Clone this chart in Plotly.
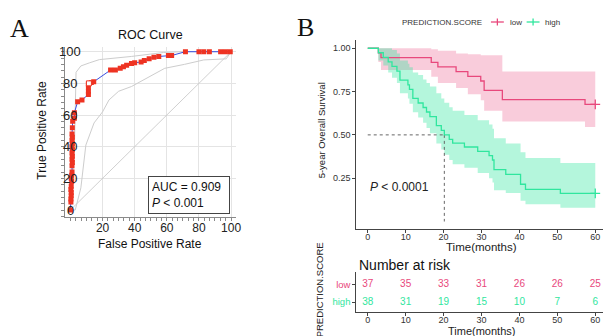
import plotly.graph_objects as go

# ---------------- data ----------------
# ROC (percent)
roc_fpr = [0, 0.3, 0.3, 0.5, 0.5, 0.3, 0.5, 0.8, 0.5, 0.8, 1.0, 1.0, 1.2, 1.0, 1.2, 1.0, 1.2, 1.0, 1.2, 1.0, 1.2, 1.0, 1.2, 1.4,
           2.5, 2.5, 4.5, 7.2, 11.2, 11.2, 11.2, 11.2, 13.0, 14.5, 25.0, 28.0, 31.0, 33.0, 35.0, 38.0, 40.0,
           44.0, 46.0, 49.0, 52.0, 55.0, 61.0, 63.0, 71.6, 80.0, 83.0, 86.5, 93.5, 96.5, 99.5]
roc_tpr = [0, 5, 7, 9, 11, 13, 15, 18, 20, 22, 24, 28, 30, 32, 34, 36, 38, 40, 42, 44, 46, 48, 52, 56,
           58, 61.5, 68.4, 69.5, 73, 75, 77.5, 79.5, 80.5, 81, 88.4, 88.4, 89.5, 90.5, 91.5, 92.5, 93,
           93.5, 94.5, 95.5, 96.5, 97, 97.6, 97.6, 100, 100, 100, 100, 100, 100, 100]
cutoff_fpr = [11.5]
cutoff_tpr = [80]
ci_upper_fpr = [0, 2.5, 3.5, 6.5, 12, 18, 38, 58, 70, 100]
ci_upper_tpr = [0, 40, 87, 91, 93, 95, 97, 99.5, 100, 100]
ci_lower_fpr = [0, 3, 6.5, 9.6, 14.7, 20, 24, 30, 38, 48.5, 58.7, 71, 83, 97, 100]
ci_lower_tpr = [0, 0, 14, 41, 55, 62, 69.5, 75, 78, 84, 89.5, 92, 94.8, 95.5, 100]
roc_xticks = [20, 40, 60, 80, 100]
roc_yticks = [0, 20, 40, 60, 80, 100]
auc_text = "AUC = 0.909<br><i>P</i> < 0.001"

# Kaplan-Meier
t_low = [0, 2.8, 3.5, 16.75, 18.5, 23.3, 26.4, 29.8, 30.7, 35.5, 57.3, 60]
s_low = [1, 0.973, 0.946, 0.919, 0.892, 0.865, 0.838, 0.811, 0.757, 0.703, 0.676, 0.676]
lo_low = [1, 0.92, 0.875, 0.835, 0.80, 0.77, 0.735, 0.70, 0.64, 0.577, 0.545, 0.545]
up_low = [1, 1, 1, 0.995, 0.985, 0.97, 0.965, 0.96, 0.96, 0.866, 0.866, 0.866]

t_high = [0, 2.8, 4.1, 5.4, 6.4, 7.7, 8.5, 10.6, 11.0, 11.9, 13.3, 14.6, 15.5, 16.4, 18.1, 19.4, 20.2,
          21.5, 22.4, 25.5, 29.0, 32.0, 32.9, 33.3, 36.4, 40.3, 41.6, 50.8, 60]
s_high = [1, 0.974, 0.947, 0.921, 0.895, 0.868, 0.816, 0.789, 0.763, 0.711, 0.684, 0.658, 0.632, 0.605,
          0.553, 0.526, 0.50, 0.474, 0.452, 0.430, 0.405, 0.380, 0.355, 0.300, 0.272, 0.215, 0.186, 0.162, 0.162]
lo_high = [1, 0.93, 0.90, 0.86, 0.83, 0.80, 0.74, 0.71, 0.68, 0.63, 0.60, 0.57, 0.54, 0.51, 0.45, 0.415,
           0.385, 0.355, 0.33, 0.31, 0.28, 0.25, 0.225, 0.18, 0.165, 0.12, 0.10, 0.08, 0.08]
up_high = [1, 1, 1, 1, 0.99, 0.97, 0.93, 0.91, 0.89, 0.86, 0.845, 0.82, 0.80, 0.78, 0.74, 0.71, 0.685,
           0.66, 0.64, 0.615, 0.585, 0.56, 0.535, 0.48, 0.45, 0.40, 0.366, 0.337, 0.337]
median_time = 20.2
median_surv = 0.5
km_xticks = [0, 10, 20, 30, 40, 50, 60]
km_yticks = [0.25, 0.50, 0.75, 1.00]
km_yticklabels = ["0.25", "0.50", "0.75", "1.00"]

risk_times = [0, 10, 20, 30, 40, 50, 60]
risk_low = [37, 35, 33, 31, 26, 26, 25]
risk_high = [38, 31, 19, 15, 10, 7, 6]
groups = ["low", "high"]

# ---------------- style ----------------
FONT = "Liberation Sans"
C_LOW = "#E8487C"
C_HIGH = "#30E69E"
F_LOW = "rgba(232,72,124,0.28)"
F_HIGH = "rgba(48,230,158,0.36)"
W, H = 608, 336

def px(x):
    return x / W

def py(y):
    return 1 - y / H

fig = go.Figure()

# ---------- ROC ----------
fig.add_trace(go.Scatter(x=[0, 100], y=[0, 100], mode="lines",
                         line=dict(color="#C4C4C4", width=0.8), xaxis="x", yaxis="y"))
fig.add_trace(go.Scatter(x=ci_upper_fpr, y=ci_upper_tpr, mode="lines",
                         line=dict(color="#CDCDCD", width=1), xaxis="x", yaxis="y"))
fig.add_trace(go.Scatter(x=ci_lower_fpr, y=ci_lower_tpr, mode="lines",
                         line=dict(color="#CDCDCD", width=1), xaxis="x", yaxis="y"))
fig.add_trace(go.Scatter(x=roc_fpr, y=roc_tpr, mode="lines+markers",
                         line=dict(color="#3A4FE0", width=1),
                         marker=dict(symbol="square", size=5, color="#EE3322", line=dict(width=0)),
                         xaxis="x", yaxis="y"))
fig.add_trace(go.Scatter(x=cutoff_fpr, y=cutoff_tpr, mode="markers",
                         marker=dict(symbol="square", size=5, color="white", line=dict(color="#EE3322", width=1)),
                         xaxis="x", yaxis="y"))

# ---------- KM ----------
def band(t, lo, up, fill):
    fig.add_trace(go.Scatter(x=t, y=lo, mode="lines", line=dict(width=0, shape="hv"),
                             xaxis="x2", yaxis="y2", hoverinfo="skip"))
    fig.add_trace(go.Scatter(x=t, y=up, mode="lines", line=dict(width=0, shape="hv"),
                             fill="tonexty", fillcolor=fill, xaxis="x2", yaxis="y2", hoverinfo="skip"))

band(t_low, lo_low, up_low, F_LOW)
band(t_high, lo_high, up_high, F_HIGH)

fig.add_trace(go.Scatter(x=[0, median_time], y=[median_surv, median_surv], mode="lines",
                         line=dict(color="#666", width=1, dash="dot"), xaxis="x2", yaxis="y2"))
fig.add_trace(go.Scatter(x=[median_time, median_time], y=[median_surv, 0], mode="lines",
                         line=dict(color="#666", width=1, dash="dot"), xaxis="x2", yaxis="y2"))

fig.add_trace(go.Scatter(x=t_low, y=s_low, mode="lines", line=dict(color=C_LOW, width=1.3, shape="hv"),
                         xaxis="x2", yaxis="y2"))
fig.add_trace(go.Scatter(x=t_high, y=s_high, mode="lines", line=dict(color=C_HIGH, width=1.3, shape="hv"),
                         xaxis="x2", yaxis="y2"))
fig.add_trace(go.Scatter(x=[t_low[-1]], y=[s_low[-1]], mode="markers",
                         marker=dict(symbol="cross-thin", size=7, line=dict(color=C_LOW, width=1.3)),
                         xaxis="x2", yaxis="y2"))
fig.add_trace(go.Scatter(x=[t_high[-1]], y=[s_high[-1]], mode="markers",
                         marker=dict(symbol="cross-thin", size=7, line=dict(color=C_HIGH, width=1.3)),
                         xaxis="x2", yaxis="y2"))

# ---------- risk table ----------
fig.add_trace(go.Scatter(x=risk_times, y=[1] * len(risk_times), mode="text",
                         text=[str(v) for v in risk_low],
                         textfont=dict(family=FONT, size=10, color=C_LOW), xaxis="x3", yaxis="y3"))
fig.add_trace(go.Scatter(x=risk_times, y=[0] * len(risk_times), mode="text",
                         text=[str(v) for v in risk_high],
                         textfont=dict(family=FONT, size=10, color=C_HIGH), xaxis="x3", yaxis="y3"))

# ---------------- axes ----------------
km_xdom = [px(359.3), 1.0]
km_xrange = [-3, 62.04]

fig.update_layout(
    width=W, height=H, margin=dict(l=0, r=0, t=0, b=0),
    paper_bgcolor="white", plot_bgcolor="white", showlegend=False,
    font=dict(family=FONT, color="#222"),
    xaxis=dict(domain=[px(66), px(238)], range=[-3.09, 103.1], anchor="y",
               tickvals=roc_xticks, ticktext=[str(v) for v in roc_xticks],
               showgrid=True, gridcolor="#E4E4E4", gridwidth=1, zeroline=False,
               showline=True, linecolor="#8A8A8A", linewidth=1,
               ticks="outside", ticklen=3, tickcolor="#8A8A8A", ticklabelstandoff=-3,
               minor=dict(dtick=10 / 3, tick0=0, ticks="outside", ticklen=3, tickcolor="#8A8A8A", showgrid=False),
               tickfont=dict(size=12, color="#222")),
    yaxis=dict(domain=[py(216.7), py(47)], range=[-4.23, 102.97], anchor="x",
               tickvals=roc_yticks[1:], showticklabels=False,
               showgrid=True, gridcolor="#E4E4E4", gridwidth=1, zeroline=False,
               showline=True, linecolor="#8A8A8A", linewidth=1,
               ticks="outside", ticklen=3, tickcolor="#8A8A8A",
               minor=dict(dtick=4, tick0=0, ticks="outside", ticklen=3, tickcolor="#8A8A8A", showgrid=False)),
    xaxis2=dict(domain=km_xdom, range=km_xrange, anchor="y2",
                tickvals=km_xticks, showgrid=False, zeroline=False,
                showline=True, linecolor="#444", linewidth=1,
                ticks="outside", ticklen=3, tickcolor="#444", ticklabelstandoff=-4,
                tickfont=dict(size=9, color="#333")),
    yaxis2=dict(domain=[py(229.3), py(39.6)], range=[-0.045, 1.05], anchor="x2",
                tickvals=km_yticks, ticktext=km_yticklabels, showgrid=False, zeroline=False,
                showline=True, linecolor="#444", linewidth=1,
                ticks="outside", ticklen=3, tickcolor="#444",
                tickfont=dict(size=9, color="#333")),
    xaxis3=dict(domain=km_xdom, range=km_xrange, anchor="y3",
                tickvals=risk_times, showgrid=False, zeroline=False,
                showline=True, linecolor="#444", linewidth=1,
                ticks="outside", ticklen=3, tickcolor="#444", ticklabelstandoff=-4,
                tickfont=dict(size=9, color="#333")),
    yaxis3=dict(domain=[py(312.3), py(272)], range=[-0.6, 1.76], anchor="x3",
                tickvals=[1, 0],
                ticktext=[f'<span style="color:{C_LOW}">{groups[0]}</span>',
                          f'<span style="color:{C_HIGH}">{groups[1]}</span>'],
                showgrid=False, zeroline=False,
                showline=True, linecolor="#444", linewidth=1,
                ticks="outside", ticklen=3, tickcolor="#444",
                tickfont=dict(size=9.5)),
)

ann = []
# panel letters
ann.append(dict(x=px(20), y=py(28), text="A", font=dict(family="Liberation Serif", size=26, color="#111")))
ann.append(dict(x=px(308), y=py(27), text="B", font=dict(family="Liberation Serif", size=26, color="#111")))
# ROC texts
ann.append(dict(x=px(152), y=py(35), text="ROC Curve", font=dict(size=12.5, color="#111")))
ann.append(dict(x=px(42), y=py(130), text="True Positive Rate", textangle=-90, font=dict(size=12, color="#111")))
ann.append(dict(x=px(151), y=py(244), text="False Positive Rate", font=dict(size=12, color="#111")))
for v in roc_yticks:
    ann.append(dict(x=0, y=v, xref="x", yref="y", text=str(v), font=dict(size=13, color="#222")))
ann.append(dict(x=px(191), y=py(195), text=auc_text, align="left", font=dict(size=12, color="#111"),
                bordercolor="#444", borderwidth=1, borderpad=3, bgcolor="white", width=74))
# KM texts
ann.append(dict(x=px(324), y=py(130), text="5-year Overall Survival", textangle=-90, font=dict(size=9.5, color="#222")))
ann.append(dict(x=px(485), y=py(247), text="Time(months)", font=dict(size=11.5, color="#222")))
ann.append(dict(x=0, y=0.2, xref="x2", yref="y2", xanchor="left", text="<i>P</i> < 0.0001",
                font=dict(size=12, color="#222")))
# legend
ann.append(dict(x=px(403), y=py(22.5), xanchor="left", text="PREDICTION.SCORE", font=dict(size=8, color="#333")))
ann.append(dict(x=px(512), y=py(22.5), xanchor="left", text="low", font=dict(size=8, color="#333")))
ann.append(dict(x=px(547), y=py(22.5), xanchor="left", text="high", font=dict(size=8, color="#333")))
# risk table texts
ann.append(dict(x=px(360), y=py(265), xanchor="left", text="Number at risk", font=dict(size=14, color="#111")))
ann.append(dict(x=px(485), y=py(330.5), text="Time(months)", font=dict(size=11, color="#222")))
ann.append(dict(x=px(322), y=py(290), text="PREDICTION.SCORE", textangle=-90, font=dict(size=9.5, color="#222")))

for a in ann:
    a.setdefault("xref", "paper")
    a.setdefault("yref", "paper")
    a.setdefault("xanchor", "center")
    a.setdefault("yanchor", "middle")
    a["showarrow"] = False
fig.update_layout(annotations=ann)

# legend keys
shapes = []
for (x0, x1, col) in [(495, 508, C_LOW), (531, 544, C_HIGH)]:
    shapes.append(dict(type="line", xref="paper", yref="paper", x0=px(x0), x1=px(x1), y0=py(22), y1=py(22),
                       line=dict(color=col, width=1.3)))
    xm = (x0 + x1) / 2
    shapes.append(dict(type="line", xref="paper", yref="paper", x0=px(xm), x1=px(xm), y0=py(18.5), y1=py(25.5),
                       line=dict(color=col, width=1.3)))
fig.update_layout(shapes=shapes)

fig.write_html("out.html", config={"displayModeBar": False},
               post_script="document.body.style.margin='0';document.body.style.overflow='hidden';")
